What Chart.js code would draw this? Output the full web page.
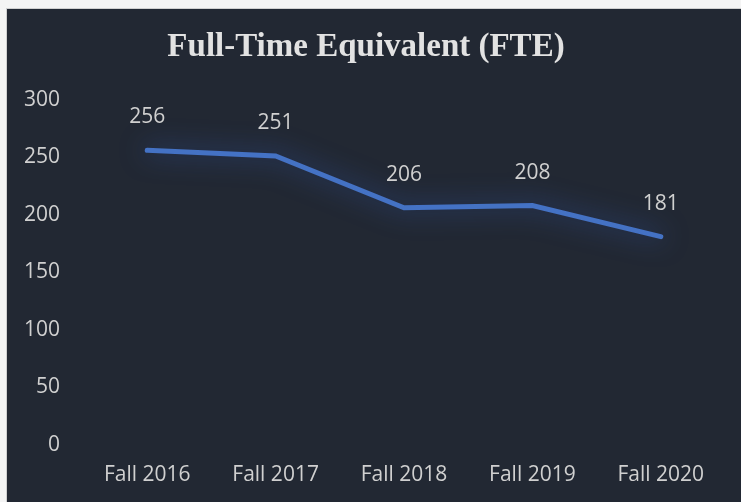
<!DOCTYPE html>
<html>
<head>
<meta charset="utf-8">
<script src="https://cdn.jsdelivr.net/npm/chart.js@4.4.0/dist/chart.umd.min.js"></script>
<style>
  html, body { margin: 0; padding: 0; background: #f4f4f4; }
  body { width: 741px; height: 502px; overflow: hidden; position: relative; }
  #wrap { position: absolute; left: 6px; top: 8px; width: 735px; height: 494px;
          background: #222833; border-left: 1px solid #d0d0d0; border-top: 1px solid #d0d0d0; box-sizing: border-box; }
  canvas { display: block; }
</style>
</head>
<body>
<div id="wrap"><canvas id="c" width="734" height="493"></canvas></div>
<script>
const titleText = 'Full-Time Equivalent (FTE)';
const categories = ['Fall 2016', 'Fall 2017', 'Fall 2018', 'Fall 2019', 'Fall 2020'];
const fteValues = [256, 251, 206, 208, 181];
const yTicks = [0, 50, 100, 150, 200, 250, 300];

const labelColor = '#d0d0d0';
const lineColor = '#4472c4';

const glowPlugin = {
  id: 'glow',
  beforeDatasetDraw(chart) {
    const ctx = chart.ctx;
    ctx.save();
    ctx.shadowColor = 'rgba(55,100,200,0.7)';
    ctx.shadowBlur = 26;
    ctx.shadowOffsetX = 0;
    ctx.shadowOffsetY = 0;
  },
  afterDatasetDraw(chart) {
    chart.ctx.restore();
  }
};

const valueLabels = {
  id: 'valueLabels',
  afterDatasetsDraw(chart) {
    const ctx = chart.ctx;
    const meta = chart.getDatasetMeta(0);
    const data = chart.data.datasets[0].data;
    ctx.save();
    ctx.font = '21px "Open Sans"';
    ctx.fillStyle = labelColor;
    ctx.textAlign = 'center';
    ctx.textBaseline = 'middle';
    meta.data.forEach((pt, i) => {
      ctx.fillText(String(data[i]), pt.x, pt.y - 33);
    });
    ctx.restore();
  }
};

new Chart(document.getElementById('c'), {
  type: 'line',
  data: {
    labels: categories,
    datasets: [{
      data: fteValues,
      borderColor: lineColor,
      borderWidth: 5,
      pointRadius: 0,
      pointHoverRadius: 0,
      tension: 0,
      fill: false,
      borderCapStyle: 'round',
      borderJoinStyle: 'miter'
    }]
  },
  options: {
    responsive: false,
    animation: false,
    events: [],
    layout: { padding: { left: 0, right: 16, top: 0, bottom: 0 } },
    plugins: {
      legend: { display: false },
      tooltip: { enabled: false },
      title: {
        display: true,
        text: titleText,
        color: '#e2e2e2',
        font: { family: '"Liberation Serif", serif', size: 33, weight: 'bold', lineHeight: 1.2 },
        padding: { top: 19, bottom: 32 }
      }
    },
    scales: {
      x: {
        offset: true,
        grid: { display: false, drawTicks: false },
        border: { display: false },
        ticks: { color: labelColor, font: { family: '"Open Sans"', size: 21 }, padding: 17, maxRotation: 0 },
        afterFit(scale) { scale.height = 57; }
      },
      y: {
        min: 0,
        max: 300,
        grid: { display: false, drawTicks: false },
        border: { display: false },
        afterBuildTicks(scale) { scale.ticks = yTicks.map(v => ({ value: v })); },
        ticks: { color: labelColor, font: { family: '"Open Sans"', size: 21 }, padding: 23 },
        afterFit(scale) { scale.width = 76; }
      }
    }
  },
  plugins: [glowPlugin, valueLabels]
});
</script>
</body>
</html>
